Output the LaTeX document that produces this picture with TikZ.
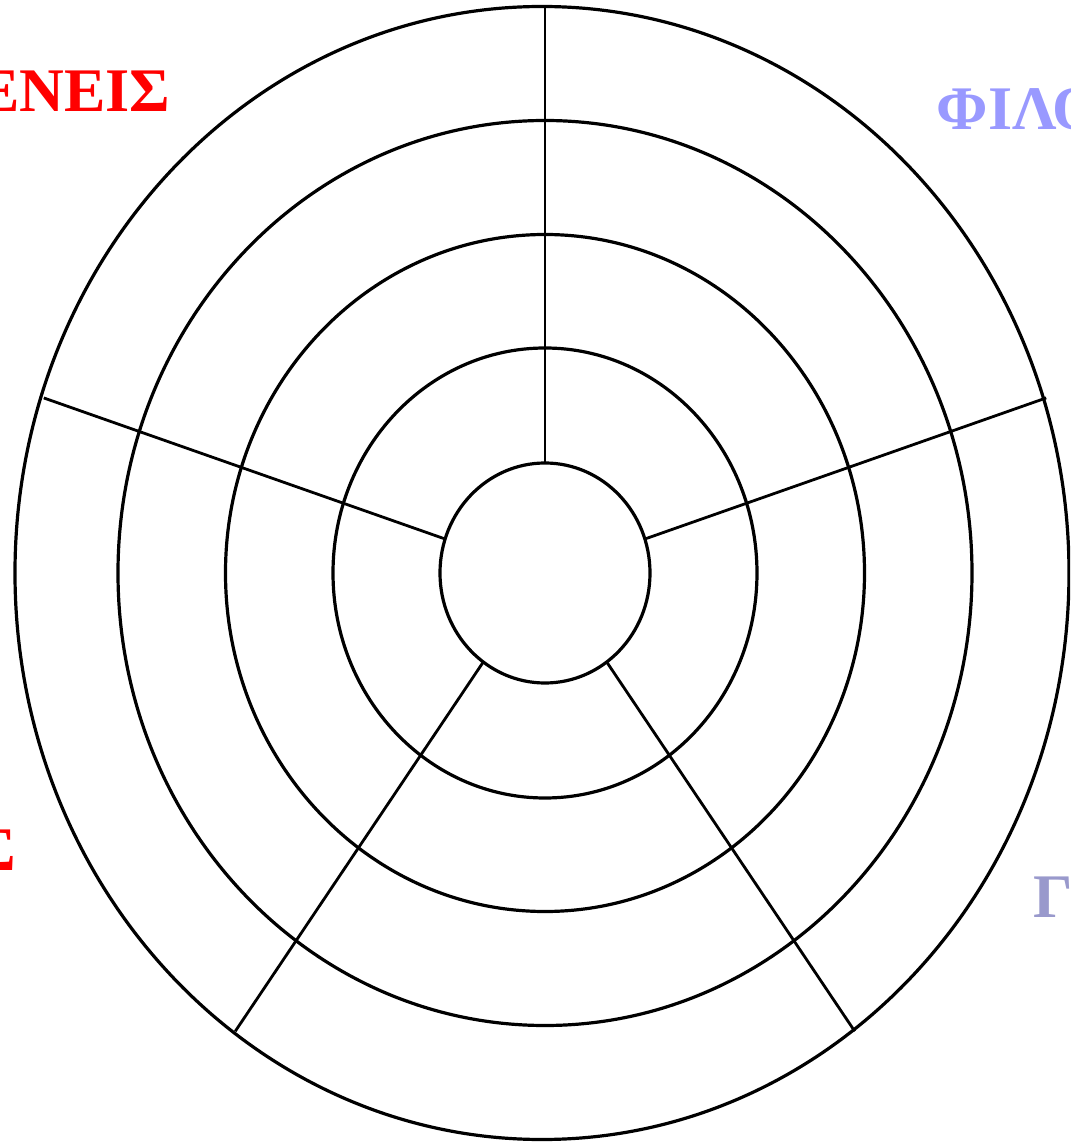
\documentclass[tikz,border=0pt]{standalone}
\usepackage{fontspec}
\setmainfont{Liberation Serif}
\usepackage{tikz}
\definecolor{kinred}{HTML}{FF0000}
\definecolor{friendblue}{HTML}{9999FF}
\definecolor{neighbourblue}{HTML}{9999CC}

\begin{document}
\begin{tikzpicture}[line width=3.2pt,
    lbl/.style={inner sep=0pt,font=\fontsize{62}{62}\selectfont\bfseries}]
	\useasboundingbox (-545pt,573pt) rectangle (525pt,-569pt);
	\clip (-545pt,573pt) rectangle (525pt,-569pt);
	% rings
	\foreach \rx/\ry in {105/110,212/225,319.5/338.5,427/452.5}
		\draw (0,0) ellipse [x radius=\rx pt, y radius=\ry pt];
	\draw (-3pt,0) ellipse [x radius=527pt, y radius=566.5pt];
	% spokes
	\foreach \a in {18,90,162,234,306}
		\draw[line width=2.8pt] (\a:105pt and 110pt) -- (\a:527pt and 566.5pt);
	% labels
	\node[lbl,kinred,anchor=base east] (kin) at (-373pt,461pt) {ΣΥΓΓΕΝΕΙΣ};
	\node[lbl,friendblue,anchor=base west] (friends) at (390pt,443pt) {ΦΙΛΟΙ};
	\node[lbl,kinred,anchor=base east,fill=white,inner xsep=39pt,text height=75pt,text depth=30pt] (mates) at (-488pt,-297pt) {ΣΥΜΜΑΘΗΤΕΣ};
	\node[lbl,neighbourblue,anchor=base west,fill=white,inner xsep=22pt,text height=72pt,text depth=30pt] (neighbours) at (465pt,-344pt) {ΓΕΙΤΟΝΕΣ};
\end{tikzpicture}
\end{document}
